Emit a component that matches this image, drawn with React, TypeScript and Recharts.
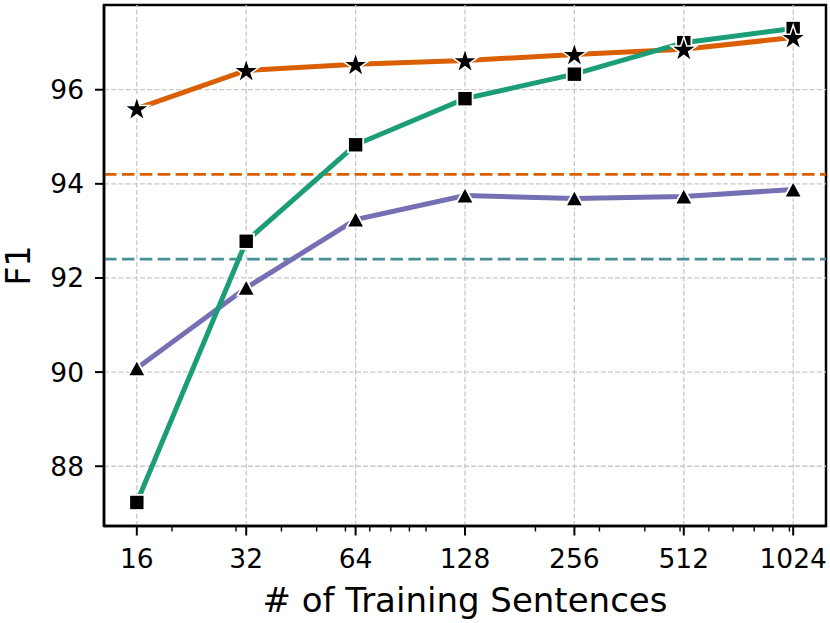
import { LineChart, Line, XAxis, YAxis, ReferenceLine, ReferenceArea } from "recharts";

// training set sizes (log2 x axis)
const sizes = [16, 32, 64, 128, 256, 512, 1024];
const minorTicks = [20, 30, 40, 50, 60, 70, 80, 90, 100, 200, 300, 400, 500, 600, 700, 800, 900, 1000];
const yTicks = [88, 90, 92, 94, 96];

// F1 per series
const orangeF1 = [95.6, 96.41, 96.54, 96.62, 96.75, 96.86, 97.11];
const greenF1 = [87.23, 92.78, 94.83, 95.81, 96.33, 97.0, 97.3];
const purpleF1 = [90.08, 91.79, 93.24, 93.75, 93.69, 93.73, 93.88];

// horizontal baselines
const orangeBaseline = 94.2;
const tealBaseline = 92.4;

const ORANGE = "#d95f02";
const GREEN = "#1b9e77";
const PURPLE = "#7570b3";
const TEAL = "#4a8f96";
const GRID = "#c9c9c9";

const X_MIN = 16 / Math.pow(2, 0.3);
const X_MAX = 1024 * Math.pow(2, 0.3);
const Y_MIN = 86.73;
const Y_MAX = 97.8;

const data = sizes.map((n, i) => ({
  n,
  orange: orangeF1[i],
  green: greenF1[i],
  purple: purpleF1[i],
}));

const XTick = (props: any) => {
  const { x, y, payload } = props;
  const v = payload.value;
  const major = sizes.includes(v);
  return (
    <g>
      <line x1={x} x2={x} y1={y} y2={y + (major ? 9.5 : 5.5)} stroke="#000" strokeWidth={major ? 2 : 1.4} />
      {major && (
        <text x={x} y={y + 42} textAnchor="middle" fontSize={26.5} fill="#000">
          {v}
        </text>
      )}
    </g>
  );
};

const XLabel = (props: any) => {
  const { viewBox } = props;
  return (
    <text x={viewBox.x + viewBox.width / 2} y={611.5} textAnchor="middle" fontSize={34} fill="#000">
      # of Training Sentences
    </text>
  );
};

const YLabel = (props: any) => {
  const { viewBox } = props;
  const cy = viewBox.y + viewBox.height / 2;
  return (
    <text x={30} y={cy} textAnchor="middle" fontSize={33} fill="#000" transform={`rotate(-90, 30, ${cy})`}>
      F1
    </text>
  );
};

const Square = (props: any) => {
  const { cx, cy, index } = props;
  if (cx == null || cy == null) return <g key={index} />;
  return <rect key={index} x={cx - 7.6} y={cy - 7.6} width={15.2} height={15.2} fill="#000" stroke="#fff" strokeWidth={1.8} />;
};

const Triangle = (props: any) => {
  const { cx, cy, index } = props;
  if (cx == null || cy == null) return <g key={index} />;
  const pts = `${cx},${cy - 8.5} ${cx - 8.8},${cy + 7.8} ${cx + 8.8},${cy + 7.8}`;
  return <polygon key={index} points={pts} fill="#000" stroke="#fff" strokeWidth={1.8} />;
};

const Star = (props: any) => {
  const { cx, cy, index } = props;
  if (cx == null || cy == null) return <g key={index} />;
  const R = 13.4;
  const r = R * 0.381966;
  const pts: string[] = [];
  for (let k = 0; k < 10; k++) {
    const rad = k % 2 === 0 ? R : r;
    const a = (Math.PI / 5) * k - Math.PI / 2;
    pts.push(`${cx + rad * Math.cos(a)},${cy + 1 + rad * Math.sin(a)}`);
  }
  return <polygon key={index} points={pts.join(" ")} fill="#000" stroke="#fff" strokeWidth={1.5} strokeLinejoin="miter" />;
};

export default function App() {
  return (
    <div style={{ position: "absolute", left: 0, top: 0, width: 830, height: 623, background: "#fff", fontFamily: "DejaVu Sans" }}>
      <LineChart width={830} height={623} data={data} margin={{ top: 5, right: 4, bottom: 0, left: 0 }}>
        <XAxis
          dataKey="n"
          type="number"
          scale="log"
          domain={[X_MIN, X_MAX]}
          allowDataOverflow
          ticks={[...sizes, ...minorTicks]}
          interval={0}
          tick={<XTick />}
          tickLine={false}
          tickSize={0}
          tickMargin={0}
          axisLine={{ stroke: "#000", strokeWidth: 2.5 }}
          height={97}
          label={<XLabel />}
        />
        <YAxis
          type="number"
          domain={[Y_MIN, Y_MAX]}
          allowDataOverflow
          ticks={yTicks}
          interval={0}
          width={104}
          tickSize={9}
          tickMargin={11}
          tick={{ fontSize: 26.5, fill: "#000" }}
          tickLine={{ stroke: "#000", strokeWidth: 2 }}
          axisLine={{ stroke: "#000", strokeWidth: 2.5 }}
          label={<YLabel />}
        />
        {yTicks.map((v) => (
          <ReferenceLine key={`gy${v}`} y={v} stroke={GRID} strokeWidth={1.3} strokeDasharray="5 2.2" />
        ))}
        {sizes.map((v) => (
          <ReferenceLine key={`gx${v}`} x={v} stroke={GRID} strokeWidth={1.3} strokeDasharray="5 2.2" />
        ))}
        <ReferenceLine y={orangeBaseline} stroke={ORANGE} strokeWidth={2.8} strokeDasharray="12.5 5.4" />
        <ReferenceLine y={tealBaseline} stroke={TEAL} strokeWidth={2.8} strokeDasharray="12.5 5.4" />
        <ReferenceArea x1={X_MIN} x2={X_MAX} y1={Y_MIN} y2={Y_MAX} fill="none" fillOpacity={0} stroke="#000" strokeWidth={2.5} ifOverflow="visible" />

        <Line dataKey="orange" stroke={ORANGE} strokeWidth={5} dot={false} activeDot={false} isAnimationActive={false} />
        <Line dataKey="purple" stroke={PURPLE} strokeWidth={5} dot={false} activeDot={false} isAnimationActive={false} />
        <Line dataKey="green" stroke={GREEN} strokeWidth={5} dot={false} activeDot={false} isAnimationActive={false} />

        <Line dataKey="green" stroke="none" dot={(p: any) => <Square {...p} key={`sq${p.index}`} />} activeDot={false} isAnimationActive={false} />
        <Line dataKey="purple" stroke="none" dot={(p: any) => <Triangle {...p} key={`tr${p.index}`} />} activeDot={false} isAnimationActive={false} />
        <Line dataKey="orange" stroke="none" dot={(p: any) => <Star {...p} key={`st${p.index}`} />} activeDot={false} isAnimationActive={false} />
      </LineChart>
    </div>
  );
}
